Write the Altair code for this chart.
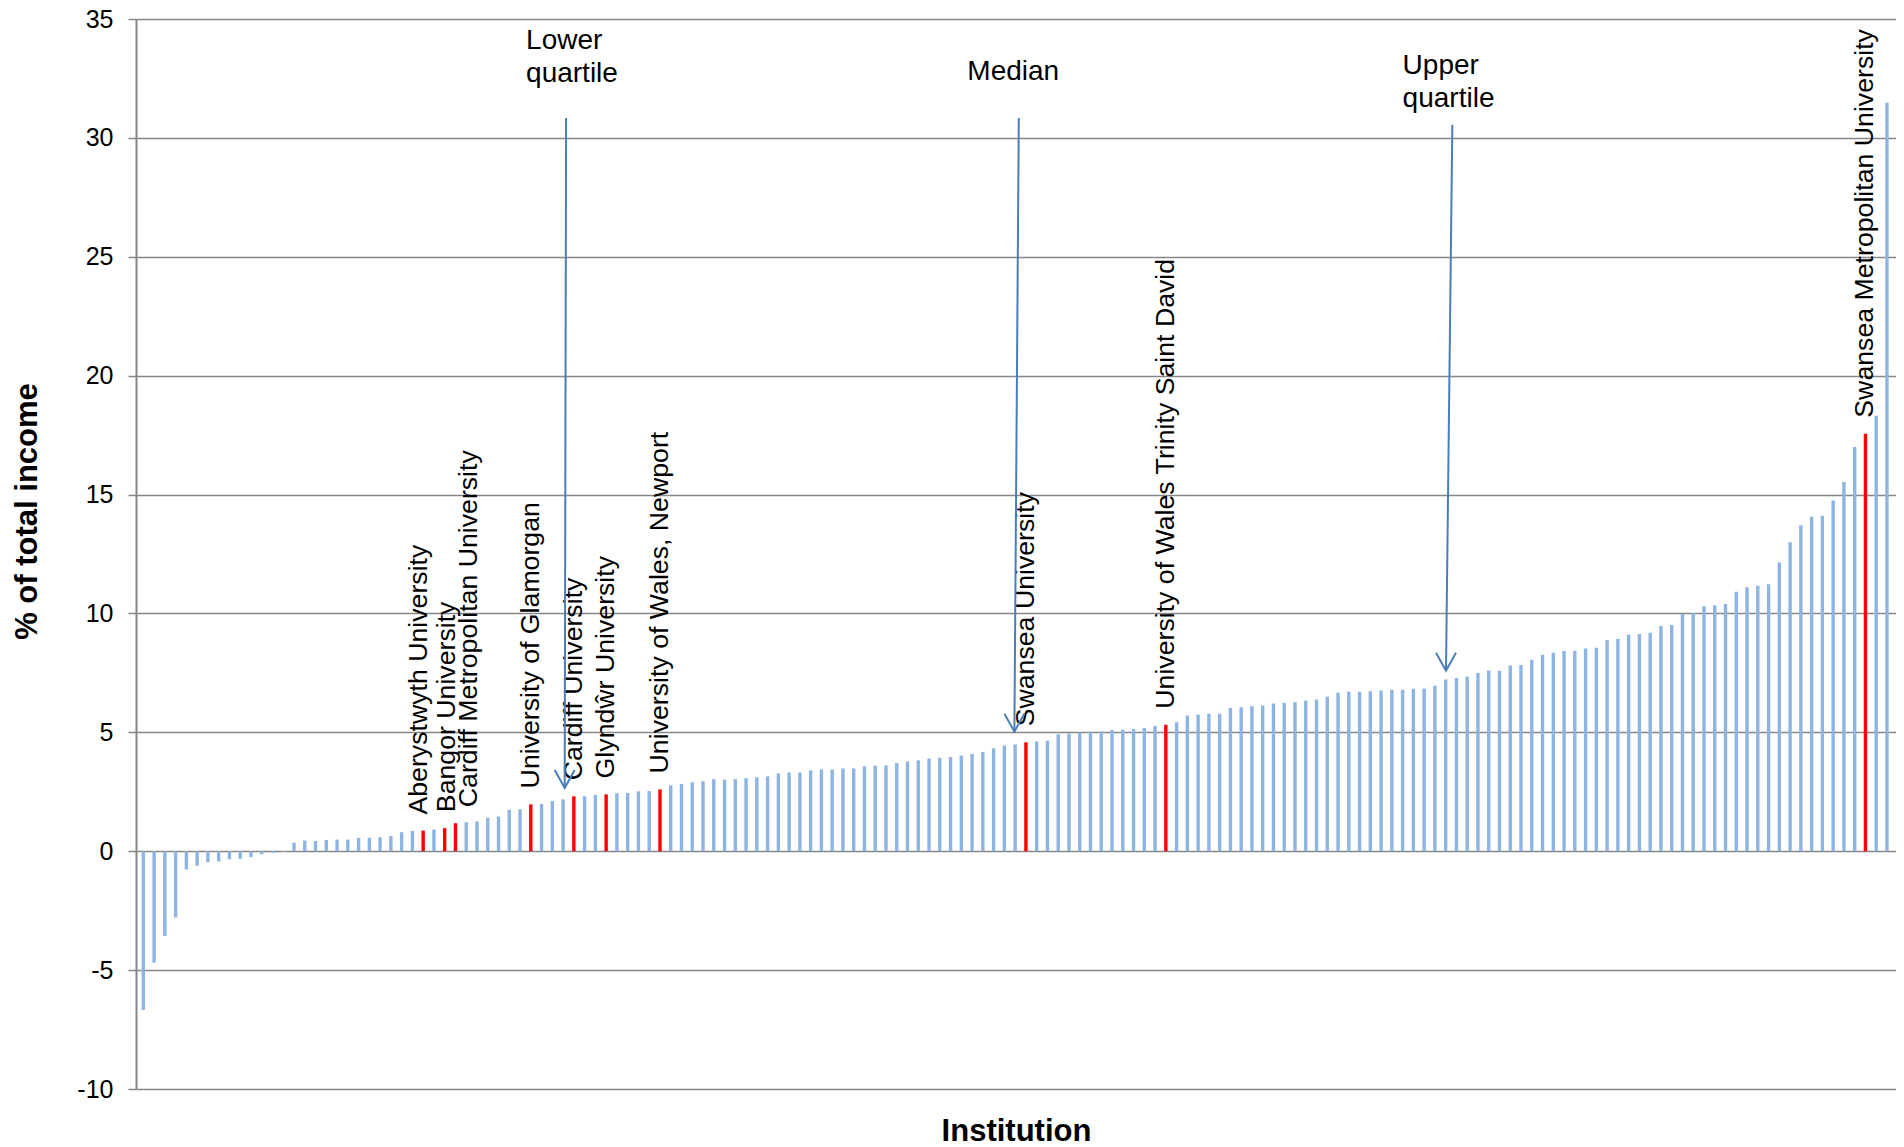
import altair as alt
import pandas as pd

# ---- data (sorted % of total income, 163 institutions) ----
values = [
    -6.68, -4.69, -3.56, -2.79, -0.77, -0.61, -0.46, -0.43, -0.34, -0.32,
    -0.25, -0.13, -0.07, -0.03, 0.36, 0.45, 0.43, 0.47, 0.49, 0.49,
    0.56, 0.57, 0.59, 0.64, 0.80, 0.85, 0.87, 0.91, 0.97, 1.18,
    1.22, 1.25, 1.41, 1.46, 1.74, 1.76, 1.97, 1.99, 2.11, 2.18,
    2.31, 2.31, 2.37, 2.39, 2.44, 2.45, 2.52, 2.53, 2.60, 2.77,
    2.83, 2.90, 2.94, 3.03, 3.01, 3.03, 3.07, 3.11, 3.15, 3.27,
    3.31, 3.31, 3.40, 3.44, 3.44, 3.48, 3.48, 3.57, 3.60, 3.61,
    3.71, 3.78, 3.82, 3.90, 3.93, 3.96, 4.02, 4.09, 4.17, 4.33,
    4.45, 4.49, 4.58, 4.62, 4.65, 4.92, 4.95, 4.99, 5.03, 5.04,
    5.10, 5.11, 5.14, 5.18, 5.27, 5.32, 5.42, 5.71, 5.75, 5.78,
    5.78, 6.02, 6.05, 6.10, 6.13, 6.21, 6.24, 6.27, 6.33, 6.38,
    6.50, 6.67, 6.71, 6.71, 6.73, 6.76, 6.79, 6.79, 6.83, 6.84,
    6.96, 7.22, 7.29, 7.34, 7.50, 7.60, 7.59, 7.81, 7.83, 8.05,
    8.26, 8.35, 8.42, 8.43, 8.53, 8.56, 8.88, 8.93, 9.10, 9.14,
    9.19, 9.47, 9.51, 9.98, 10.02, 10.30, 10.34, 10.40, 10.91, 11.10,
    11.16, 11.23, 12.14, 12.99, 13.71, 14.07, 14.11, 14.75, 15.53, 17.00,
    17.56, 18.31, 31.48,
]

welsh_names = [
    "Aberystwyth University",
    "Bangor University",
    "Cardiff Metropolitan University",
    "University of Glamorgan",
    "Cardiff University",
    "Glyndŵr University",
    "University of Wales, Newport",
    "Swansea University",
    "University of Wales Trinity Saint David",
    "Swansea Metropolitan University",
]
welsh_ranks = [26, 28, 29, 36, 40, 43, 48, 82, 95, 160]
# horizontal nudge (px) used to keep crowded labels apart (layout only)
label_nudge = [-4, 2, 14, 0, 0, 0, 0, 0, 0, 0]

# quartile annotations (rank position / value)
q_names = ["Lower quartile", "Median", "Upper quartile"]
q_tip_rank = [39.15, 80.93, 121.03]
q_tip_value = [2.66, 5.03, 7.59]
q_top_rank = [39.28, 81.34, 121.62]
q_top_value = [30.84, 30.84, 30.55]
q_text_lines = [["Lower", "quartile"], ["Median"], ["Upper", "quartile"]]
q_text_rank = [35.56, 76.56, 117.0]
q_text_value = [[33.74, 32.36], [32.45], [32.70, 31.32]]

y_ticks = [-10, -5, 0, 5, 10, 15, 20, 25, 30, 35]

# ---- build tables ----
bars = pd.DataFrame({
    "rank": list(range(len(values))),
    "value": values,
    "welsh": [i in welsh_ranks for i in range(len(values))],
})

arrows = pd.DataFrame({
    "name": q_names,
    "x": q_top_rank, "y": q_top_value,
    "x2": q_tip_rank, "y2": q_tip_value,
})

txt_rows = []
for name, lines, xr, yvals in zip(q_names, q_text_lines, q_text_rank, q_text_value):
    for line, yv in zip(lines, yvals):
        txt_rows.append({"name": name, "text": line, "x": xr, "y": yv})
qtext = pd.DataFrame(txt_rows)

FONT = "Liberation Sans"
GRID = "#868686"
BLUE = "#8DB4E2"
RED = "#FF0000"
ARROW = "#4A7EBB"

xscale = alt.Scale(domain=[-0.68, 162.84], nice=False, zero=False, padding=0)
yscale = alt.Scale(domain=[-10, 35], nice=False, padding=0)

bar_layer = alt.Chart(bars).mark_bar(size=3.4).encode(
    x=alt.X("rank:Q", scale=xscale,
            axis=alt.Axis(title="Institution", labels=False, ticks=False,
                          domain=False, grid=False, titleFont=FONT,
                          titleFontSize=31, titleFontWeight="bold",
                          titleColor="black", titleY=42,
                          titleBaseline="middle")),
    y=alt.Y("value:Q", scale=yscale,
            axis=alt.Axis(title="% of total income", values=y_ticks,
                          labelExpr="'' + datum.value",
                          labelFont=FONT, labelFontSize=25, labelColor="black",
                          labelPadding=15, tickSize=8, tickColor=GRID,
                          tickWidth=1.5, domainColor=GRID, domainWidth=2,
                          gridColor=GRID, gridWidth=1.5,
                          titleFont=FONT, titleFontSize=31,
                          titleFontWeight="bold", titleColor="black",
                          titleAngle=270, titleAlign="center",
                          titleBaseline="middle", titleX=-109, titleY=492)),
    color=alt.condition(alt.datum.welsh, alt.value(RED), alt.value(BLUE)),
)

layers = [bar_layer]

for name, rk, nudge in zip(welsh_names, welsh_ranks, label_nudge):
    d = pd.DataFrame({"rank": [rk], "value": [values[rk]], "name": [name]})
    layers.append(
        alt.Chart(d).mark_text(angle=270, align="left", baseline="middle",
                               dx=16, dy=nudge, font=FONT, fontSize=26.7,
                               color="black").encode(
            x=alt.X("rank:Q", scale=xscale),
            y=alt.Y("value:Q", scale=yscale),
            text="name:N",
        )
    )

rule_layer = alt.Chart(arrows).mark_rule(color=ARROW, strokeWidth=2).encode(
    x=alt.X("x:Q", scale=xscale), y=alt.Y("y:Q", scale=yscale),
    x2="x2:Q", y2="y2:Q",
)
head_layer = alt.Chart(arrows).mark_point(
    shape="M -0.5 -0.9 L 0 0 L 0.5 -0.9", size=1600, filled=False,
    stroke=ARROW, strokeWidth=2, opacity=1,
).encode(
    x=alt.X("x2:Q", scale=xscale), y=alt.Y("y2:Q", scale=yscale),
)
qtext_layer = alt.Chart(qtext).mark_text(
    align="left", baseline="alphabetic", font=FONT, fontSize=28, color="black"
).encode(
    x=alt.X("x:Q", scale=xscale), y=alt.Y("y:Q", scale=yscale), text="text:N",
)
layers += [rule_layer, head_layer, qtext_layer]

chart = alt.layer(*layers).properties(
    width=1760, height=1070,
    autosize=alt.AutoSizeParams(type="none"),
    padding={"left": 128, "top": 11, "right": 0, "bottom": 58},
).configure_view(strokeWidth=0)

chart.save("out.html", embed_options={"renderer": "svg", "actions": False})
